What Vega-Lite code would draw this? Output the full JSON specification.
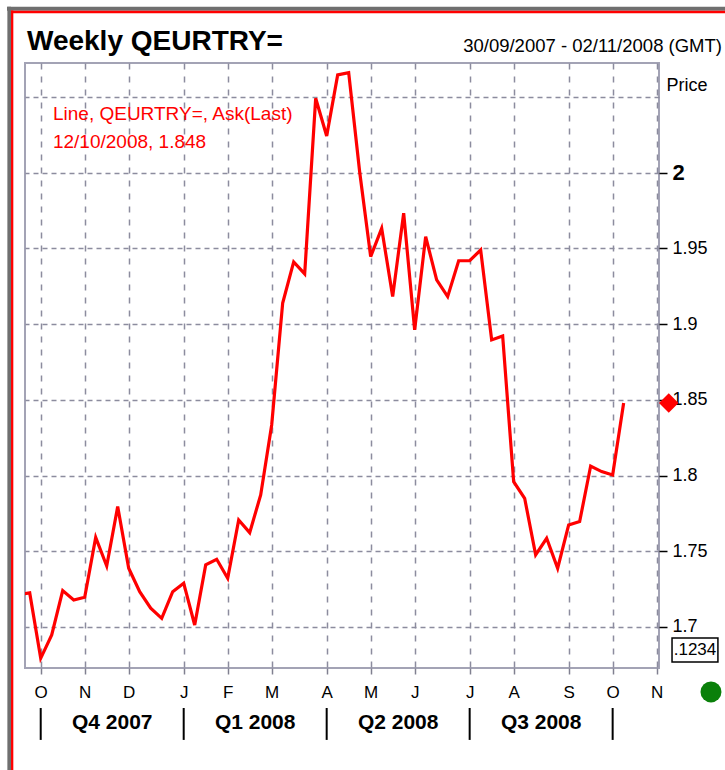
{
  "$schema": "https://vega.github.io/schema/vega-lite/v6.json",
  "width": 634,
  "height": 605,
  "autosize": {"type": "none"},
  "padding": {"left": 25, "top": 63, "right": 66, "bottom": 102},
  "background": "white",
  "config": {
    "view": {"stroke": "#a3a3b5", "strokeWidth": 2},
    "font": "Liberation Sans",
    "axis": {"labelFont": "Liberation Sans", "titleFont": "Liberation Sans"}
  },
  "datasets": {
    "one": [{"k": 1}],
    "quarters": [
      {"quarter": "Q4 2007", "start": "2007-10-07"},
      {"quarter": "Q1 2008", "start": "2008-01-06"},
      {"quarter": "Q2 2008", "start": "2008-04-06"},
      {"quarter": "Q3 2008", "start": "2008-07-06"},
      {"quarter": "", "start": "2008-10-05"}
    ],
    "weekly": [
      {"date": "2007-09-23", "price": 1.7215},
      {"date": "2007-09-30", "price": 1.7225},
      {"date": "2007-10-07", "price": 1.6793},
      {"date": "2007-10-14", "price": 1.6947},
      {"date": "2007-10-21", "price": 1.724},
      {"date": "2007-10-28", "price": 1.7178},
      {"date": "2007-11-04", "price": 1.7196},
      {"date": "2007-11-11", "price": 1.7592},
      {"date": "2007-11-18", "price": 1.7403},
      {"date": "2007-11-25", "price": 1.7795},
      {"date": "2007-12-02", "price": 1.7388},
      {"date": "2007-12-09", "price": 1.7233},
      {"date": "2007-12-16", "price": 1.7124},
      {"date": "2007-12-23", "price": 1.7057},
      {"date": "2007-12-30", "price": 1.7233},
      {"date": "2008-01-06", "price": 1.7289},
      {"date": "2008-01-13", "price": 1.7013},
      {"date": "2008-01-20", "price": 1.741},
      {"date": "2008-01-27", "price": 1.7447},
      {"date": "2008-02-03", "price": 1.7322},
      {"date": "2008-02-10", "price": 1.7707},
      {"date": "2008-02-17", "price": 1.7623},
      {"date": "2008-02-24", "price": 1.7872},
      {"date": "2008-03-02", "price": 1.8334},
      {"date": "2008-03-09", "price": 1.914},
      {"date": "2008-03-16", "price": 1.9411},
      {"date": "2008-03-23", "price": 1.9332},
      {"date": "2008-03-30", "price": 2.0492},
      {"date": "2008-04-06", "price": 2.0243},
      {"date": "2008-04-13", "price": 2.0646},
      {"date": "2008-04-20", "price": 2.0661},
      {"date": "2008-04-27", "price": 2.0005},
      {"date": "2008-05-04", "price": 1.9446},
      {"date": "2008-05-11", "price": 1.9633},
      {"date": "2008-05-18", "price": 1.9182},
      {"date": "2008-05-25", "price": 1.9733},
      {"date": "2008-06-01", "price": 1.8962},
      {"date": "2008-06-08", "price": 1.9578},
      {"date": "2008-06-15", "price": 1.9292},
      {"date": "2008-06-22", "price": 1.9182},
      {"date": "2008-06-29", "price": 1.9419},
      {"date": "2008-07-06", "price": 1.9419},
      {"date": "2008-07-13", "price": 1.949},
      {"date": "2008-07-20", "price": 1.8896},
      {"date": "2008-07-27", "price": 1.8922},
      {"date": "2008-08-03", "price": 1.796},
      {"date": "2008-08-10", "price": 1.785},
      {"date": "2008-08-17", "price": 1.7476},
      {"date": "2008-08-24", "price": 1.7586},
      {"date": "2008-08-31", "price": 1.7388},
      {"date": "2008-09-07", "price": 1.7674},
      {"date": "2008-09-14", "price": 1.7696},
      {"date": "2008-09-21", "price": 1.8063},
      {"date": "2008-09-28", "price": 1.8026},
      {"date": "2008-10-05", "price": 1.8004},
      {"date": "2008-10-12", "price": 1.848}
    ]
  },
  "layer": [
    {
      "data": {"name": "weekly"},
      "mark": {"type": "line", "color": "#ff0000", "strokeWidth": 3.2, "clip": true},
      "encoding": {
        "x": {
          "field": "date",
          "type": "temporal",
          "scale": {
            "domain": [
              {"year": 2007, "month": 9, "date": 27, "utc": true},
              {"year": 2008, "month": 11, "date": 3, "hours": 12, "utc": true}
            ],
            "nice": false
          },
          "axis": {
            "values": [
              {"year": 2007, "month": 10, "date": 7, "utc": true},
              {"year": 2007, "month": 11, "date": 4, "utc": true},
              {"year": 2007, "month": 12, "date": 2, "utc": true},
              {"year": 2008, "month": 1, "date": 6, "utc": true},
              {"year": 2008, "month": 2, "date": 3, "utc": true},
              {"year": 2008, "month": 3, "date": 2, "utc": true},
              {"year": 2008, "month": 4, "date": 6, "utc": true},
              {"year": 2008, "month": 5, "date": 4, "utc": true},
              {"year": 2008, "month": 6, "date": 1, "utc": true},
              {"year": 2008, "month": 7, "date": 6, "utc": true},
              {"year": 2008, "month": 8, "date": 3, "utc": true},
              {"year": 2008, "month": 9, "date": 7, "utc": true},
              {"year": 2008, "month": 10, "date": 5, "utc": true},
              {"year": 2008, "month": 11, "date": 2, "utc": true}
            ],
            "labelExpr": "substring(utcFormat(datum.value, '%b'), 0, 1)",
            "title": null,
            "domain": false,
            "grid": true,
            "gridColor": "#8c8c9e",
            "gridDash": [6, 7],
            "gridWidth": 1.5,
            "tickColor": "#808090",
            "tickSize": 6,
            "tickWidth": 1.5,
            "labelFontSize": 17,
            "labelColor": "black",
            "labelPadding": 10,
            "labelBaseline": "top",
            "labelAlign": "center",
            "labelFlush": false,
            "labelOverlap": false
          }
        },
        "y": {
          "field": "price",
          "type": "quantitative",
          "scale": {"domain": [1.6729, 2.0725], "nice": false, "zero": false},
          "axis": {
            "orient": "right",
            "values": [1.7, 1.75, 1.8, 1.85, 1.9, 1.95, 2, 2.05],
            "labelExpr": "datum.value > 2.02 ? '' : format(datum.value, '~g')",
            "labelFontSize": {"condition": {"test": "abs(datum.value - 2) < 0.001", "value": 22}, "value": 18},
            "labelFontWeight": {"condition": {"test": "abs(datum.value - 2) < 0.001", "value": "bold"}, "value": "normal"},
            "tickOpacity": {"condition": {"test": "datum.value > 2.02", "value": 0}, "value": 1},
            "tickColor": "black",
            "tickSize": 8,
            "tickWidth": 1.5,
            "labelPadding": 5,
            "labelColor": "black",
            "labelFlush": false,
            "labelOverlap": false,
            "labelBaseline": "middle",
            "grid": true,
            "gridColor": "#8c8c9e",
            "gridDash": [5, 4],
            "gridWidth": 1.5,
            "domain": false,
            "title": "Price",
            "titleAngle": 0,
            "titleAlign": "left",
            "titleBaseline": "middle",
            "titleX": 7,
            "titleY": 22,
            "titleFontSize": 18,
            "titleFontWeight": "normal",
            "titleColor": "black"
          }
        }
      }
    },
    {
      "data": {"name": "one"},
      "mark": {"type": "rule", "color": "#6f6f6f", "strokeWidth": 4, "clip": false},
      "encoding": {
        "x": {"datum": {"year": 2007, "month": 9, "date": 15, "hours": 13, "utc": true}, "type": "temporal"},
        "x2": {"datum": {"year": 2009, "month": 3, "date": 1, "utc": true}},
        "y": {"datum": 2.1084, "type": "quantitative"}
      }
    },
    {
      "data": {"name": "one"},
      "mark": {"type": "rule", "color": "#6f6f6f", "strokeWidth": 3.7, "clip": false},
      "encoding": {
        "x": {"datum": {"year": 2007, "month": 9, "date": 16, "hours": 23, "utc": true}, "type": "temporal"},
        "y": {"datum": 2.1097, "type": "quantitative"},
        "y2": {"datum": 1.4}
      }
    },
    {
      "data": {"name": "one"},
      "mark": {"type": "rule", "color": "#ff0000", "strokeWidth": 2.6, "clip": false},
      "encoding": {
        "x": {"datum": {"year": 2007, "month": 9, "date": 18, "hours": 2, "utc": true}, "type": "temporal"},
        "x2": {"datum": {"year": 2009, "month": 3, "date": 1, "utc": true}},
        "y": {"datum": 2.1062, "type": "quantitative"}
      }
    },
    {
      "data": {"name": "one"},
      "mark": {"type": "rule", "color": "#ff0000", "strokeWidth": 2.3, "clip": false},
      "encoding": {
        "x": {"datum": {"year": 2007, "month": 9, "date": 18, "hours": 20, "utc": true}, "type": "temporal"},
        "y": {"datum": 2.1071, "type": "quantitative"},
        "y2": {"datum": 1.4}
      }
    },
    {
      "data": {"name": "one"},
      "mark": {"type": "text", "text": "Weekly QEURTRY=", "fontSize": 28, "fontWeight": "bold", "align": "left", "baseline": "alphabetic", "color": "black", "clip": false},
      "encoding": {
        "x": {"datum": {"year": 2007, "month": 9, "date": 28, "hours": 6, "utc": true}, "type": "temporal"},
        "y": {"datum": 2.0811, "type": "quantitative"}
      }
    },
    {
      "data": {"name": "one"},
      "mark": {"type": "text", "text": "30/09/2007 - 02/11/2008 (GMT)", "fontSize": 18.5, "align": "right", "baseline": "alphabetic", "color": "black", "clip": false},
      "encoding": {
        "x": {"datum": {"year": 2008, "month": 12, "date": 13, "hours": 14, "utc": true}, "type": "temporal"},
        "y": {"datum": 2.0798, "type": "quantitative"}
      }
    },
    {
      "data": {"name": "one"},
      "mark": {"type": "text", "text": "Line, QEURTRY=, Ask(Last)", "fontSize": 19, "align": "left", "baseline": "alphabetic", "color": "#ff0000", "clip": false},
      "encoding": {
        "x": {"datum": {"year": 2007, "month": 10, "date": 14, "hours": 19, "utc": true}, "type": "temporal"},
        "y": {"datum": 2.0349, "type": "quantitative"}
      }
    },
    {
      "data": {"name": "one"},
      "mark": {"type": "text", "text": "12/10/2008, 1.848", "fontSize": 19, "align": "left", "baseline": "alphabetic", "color": "#ff0000", "clip": false},
      "encoding": {
        "x": {"datum": {"year": 2007, "month": 10, "date": 14, "hours": 19, "utc": true}, "type": "temporal"},
        "y": {"datum": 2.0164, "type": "quantitative"}
      }
    },
    {
      "data": {"name": "one"},
      "mark": {"type": "point", "shape": "diamond", "filled": true, "color": "#ff0000", "size": 380, "opacity": 1, "clip": false},
      "encoding": {
        "x": {"datum": {"year": 2008, "month": 11, "date": 9, "hours": 17, "utc": true}, "type": "temporal"},
        "y": {"datum": 1.848, "type": "quantitative"}
      }
    },
    {
      "data": {"name": "one"},
      "mark": {"type": "rect", "fill": "white", "stroke": "black", "strokeWidth": 1.5, "clip": false},
      "encoding": {
        "x": {"datum": {"year": 2008, "month": 11, "date": 11, "hours": 19, "utc": true}, "type": "temporal"},
        "x2": {"datum": {"year": 2008, "month": 12, "date": 11, "utc": true}},
        "y": {"datum": 1.6927, "type": "quantitative"},
        "y2": {"datum": 1.6769}
      }
    },
    {
      "data": {"name": "one"},
      "mark": {"type": "text", "text": ".1234", "fontSize": 17, "align": "center", "baseline": "middle", "color": "black", "clip": false},
      "encoding": {
        "x": {"datum": {"year": 2008, "month": 11, "date": 26, "hours": 10, "utc": true}, "type": "temporal"},
        "y": {"datum": 1.6848, "type": "quantitative"}
      }
    },
    {
      "data": {"name": "one"},
      "mark": {"type": "point", "shape": "circle", "filled": true, "color": "#0a800a", "size": 440, "opacity": 1, "clip": false},
      "encoding": {
        "x": {"datum": {"year": 2008, "month": 12, "date": 6, "hours": 14, "utc": true}, "type": "temporal"},
        "y": {"datum": 1.6571, "type": "quantitative"}
      }
    },
    {
      "data": {"name": "quarters"},
      "mark": {"type": "rule", "color": "black", "strokeWidth": 2, "clip": false},
      "encoding": {
        "x": {"field": "start", "type": "temporal"},
        "y": {"datum": 1.6465, "type": "quantitative"},
        "y2": {"datum": 1.6254}
      }
    },
    {
      "data": {"name": "quarters"},
      "mark": {"type": "text", "fontSize": 21, "fontWeight": "bold", "align": "center", "baseline": "middle", "color": "black", "dx": 71.5, "clip": false},
      "encoding": {
        "x": {"field": "start", "type": "temporal"},
        "y": {"datum": 1.6366, "type": "quantitative"},
        "text": {"field": "quarter"}
      }
    }
  ]
}
